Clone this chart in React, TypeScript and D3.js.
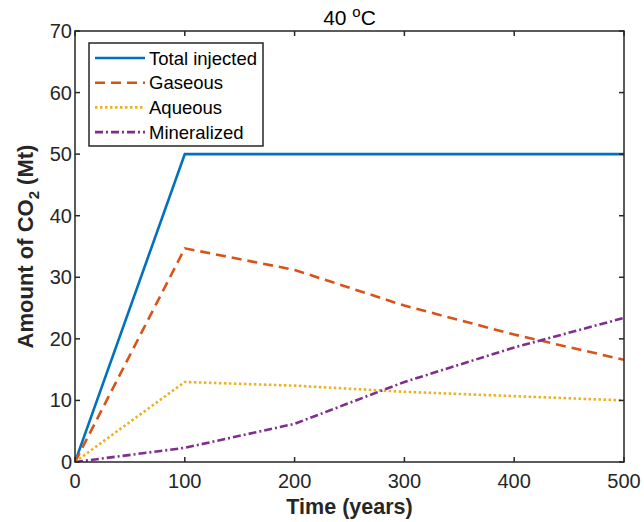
import React from "react";
import * as d3 from "d3";

const years = [0, 100, 200, 300, 400, 500];
const totalInjected = [0, 50, 50, 50, 50, 50];
const gaseous = [0, 34.7, 31.2, 25.4, 20.7, 16.6];
const aqueous = [0, 13.0, 12.4, 11.4, 10.7, 10.0];
const mineralized = [0, 2.3, 6.2, 13.0, 18.6, 23.4];
const xTicks = [0, 100, 200, 300, 400, 500];
const yTicks = [0, 10, 20, 30, 40, 50, 60, 70];

const seriesNames = ["Total injected", "Gaseous", "Aqueous", "Mineralized"];
const seriesValues = [totalInjected, gaseous, aqueous, mineralized];
const seriesColors = ["#0072BD", "#D95319", "#EDB120", "#7E2F8E"];
const seriesDash = ["none", "10,6", "2.5,2.5", "8,3,2,3"];

const W = 644;
const H = 522;
const left = 75;
const right = 624;
const top = 31;
const bottom = 462;
const axisColor = "#262626";
const font = "Arial, 'Liberation Sans', Helvetica, sans-serif";

export default function App() {
  const x = d3.scaleLinear().domain([0, 500]).range([left, right]);
  const y = d3.scaleLinear().domain([0, 70]).range([bottom, top]);
  const line = d3
    .line<number>()
    .x((_, i) => x(years[i]))
    .y((d) => y(d));

  return (
    <svg
      width={W}
      height={H}
      style={{ position: "absolute", left: 0, top: 0, background: "#fff" }}
      fontFamily={font}
    >
      <rect x={0} y={0} width={W} height={H} fill="#fff" />
      <defs>
        <clipPath id="clip">
          <rect x={left} y={top} width={right - left} height={bottom - top} />
        </clipPath>
      </defs>
      {/* series */}
      <g clipPath="url(#clip)">
        {seriesValues.map((vals, i) => (
          <path
            key={seriesNames[i]}
            d={line(vals) || ""}
            fill="none"
            stroke={seriesColors[i]}
            strokeWidth={2.6}
            strokeDasharray={seriesDash[i]}
          />
        ))}
      </g>
      {/* axes box */}
      <rect
        x={left}
        y={top}
        width={right - left}
        height={bottom - top}
        fill="none"
        stroke={axisColor}
        strokeWidth={1.5}
      />
      {/* x ticks */}
      {xTicks.map((t) => (
        <g key={"x" + t}>
          <line x1={x(t)} x2={x(t)} y1={bottom} y2={bottom - 5} stroke={axisColor} strokeWidth={1.5} />
          <line x1={x(t)} x2={x(t)} y1={top} y2={top + 5} stroke={axisColor} strokeWidth={1.5} />
          <text x={x(t)} y={488} textAnchor="middle" fontSize={20} fill={axisColor}>
            {t}
          </text>
        </g>
      ))}
      {/* y ticks */}
      {yTicks.map((t) => (
        <g key={"y" + t}>
          <line x1={left} x2={left + 5} y1={y(t)} y2={y(t)} stroke={axisColor} strokeWidth={1.5} />
          <line x1={right} x2={right - 5} y1={y(t)} y2={y(t)} stroke={axisColor} strokeWidth={1.5} />
          <text x={72} y={y(t) + 7} textAnchor="end" fontSize={20} fill={axisColor}>
            {t}
          </text>
        </g>
      ))}
      {/* title */}
      <text x={(left + right) / 2} y={25} textAnchor="middle" fontSize={21} fill="#000">
        40 <tspan dy={-8} fontSize={15}>o</tspan>
        <tspan dy={8}>C</tspan>
      </text>
      {/* x label */}
      <text x={(left + right) / 2} y={514} textAnchor="middle" fontSize={21.5} fontWeight="bold" fill={axisColor}>
        Time (years)
      </text>
      {/* y label */}
      <text
        transform={`translate(33,${(top + bottom) / 2}) rotate(-90)`}
        textAnchor="middle"
        fontSize={22}
        fontWeight="bold"
        fill={axisColor}
      >
        Amount of CO<tspan dy={6} fontSize={15}>2</tspan>
        <tspan dy={-6}> (Mt)</tspan>
      </text>
      {/* legend */}
      <rect x={89} y={43} width={174} height={103} fill="#fff" stroke={axisColor} strokeWidth={1.5} />
      {seriesNames.map((n, i) => {
        const ly = 58 + i * 24.7;
        return (
          <g key={"leg" + n}>
            <line x1={95} x2={145} y1={ly} y2={ly} stroke={seriesColors[i]} strokeWidth={2.6} strokeDasharray={seriesDash[i]} />
            <text x={149} y={ly + 6.5} fontSize={18.5} fill="#000">
              {n}
            </text>
          </g>
        );
      })}
    </svg>
  );
}
